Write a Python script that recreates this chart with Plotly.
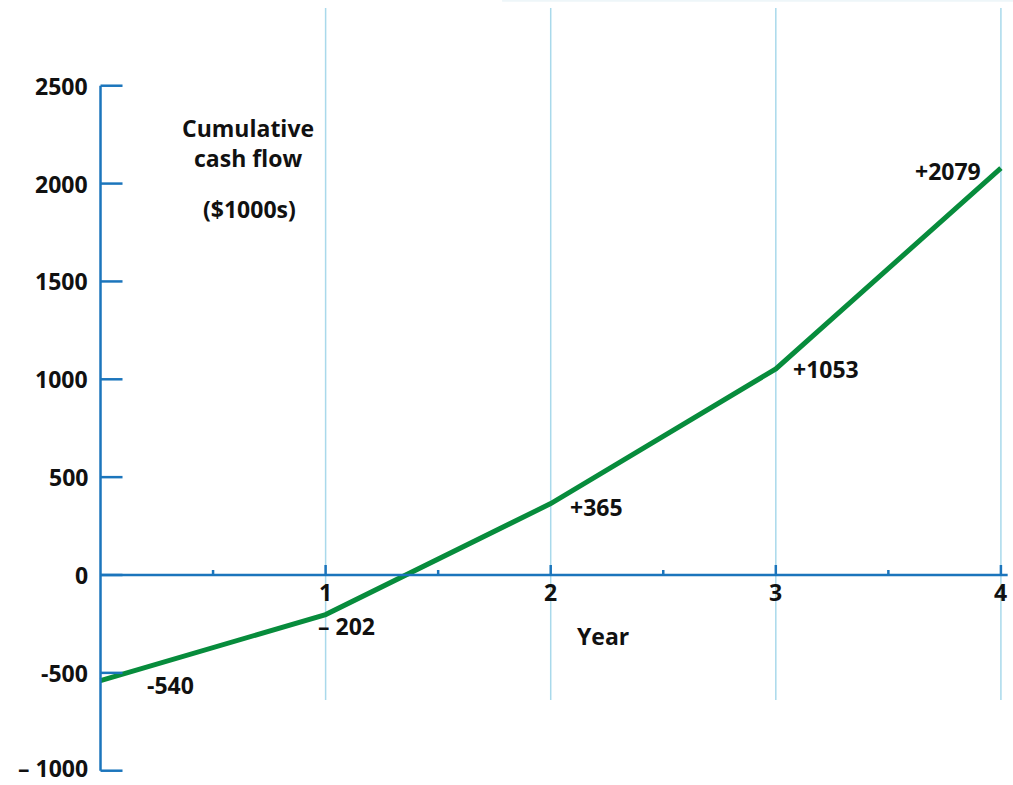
import plotly.graph_objects as go

# ---- data ----
years = [0, 1, 2, 3, 4]
cum_cash = [-540, -202, 365, 1053, 2079]
point_labels = ["-540", "\u2013 202", "+365", "+1053", "+2079"]

y_ticks = [2500, 2000, 1500, 1000, 500, 0, -500, -1000]
y_tick_text = ["2500", "2000", "1500", "1000", "500", "0", "-500", "\u2013 1000"]
x_major = [1, 2, 3, 4]
x_minor = [0.5, 1.5, 2.5, 3.5]
x_tick_text = ["1", "2", "3", "4"]

AXIS = "#1b75bc"
GRID = "#a9d9eb"
GREEN = "#078c3c"
FONT = dict(family="Open Sans", size=23, color="#111111", weight=700)

# pixel scale helpers (for offsets only)
PX_X = 225.1       # px per year
PX_Y = 0.19571     # px per $1000

fig = go.Figure()

shapes = []
# vertical gridlines
for xv in x_major:
    shapes.append(dict(type="line", xref="x", yref="y", x0=xv, x1=xv,
                       y0=-639, y1=2897, line=dict(color=GRID, width=1.5), layer="below"))
# faint top line
shapes.append(dict(type="line", xref="x", yref="paper", x0=1.784, x1=4.06,
                   y0=0.999, y1=0.999, line=dict(color="#eef6f9", width=2), layer="below"))
# y axis line
shapes.append(dict(type="line", xref="x", yref="y", x0=0, x1=0,
                   y0=min(y_ticks), y1=max(y_ticks), line=dict(color=AXIS, width=2.5)))
# y ticks (pointing right)
for yv in y_ticks:
    shapes.append(dict(type="line", xref="x", yref="y", x0=0, x1=22 / PX_X,
                       y0=yv, y1=yv, line=dict(color=AXIS, width=2.5)))
# x axis line
shapes.append(dict(type="line", xref="x", yref="y", x0=0, x1=4.03,
                   y0=0, y1=0, line=dict(color=AXIS, width=2.5)))
# x major ticks (upward)
for xv in x_major:
    shapes.append(dict(type="line", xref="x", yref="y", x0=xv, x1=xv,
                       y0=0, y1=10 / PX_Y, line=dict(color=AXIS, width=2.5)))
for xv in x_minor:
    shapes.append(dict(type="line", xref="x", yref="y", x0=xv, x1=xv,
                       y0=0, y1=5 / PX_Y, line=dict(color=AXIS, width=2.5)))

fig.add_trace(go.Scatter(x=years, y=cum_cash, mode="lines",
                         line=dict(color=GREEN, width=5), hoverinfo="skip",
                         showlegend=False))

ann = []
for yv, t in zip(y_ticks, y_tick_text):
    ann.append(dict(x=0, y=yv, xref="x", yref="y", text=t, showarrow=False,
                    xanchor="right", yanchor="middle", xshift=-12, borderpad=0,
                    yshift=3 if yv == min(y_ticks) else 0,
                    font=FONT))
for xv, t in zip(x_major, x_tick_text):
    ann.append(dict(x=xv, y=0, xref="x", yref="y", text=t, showarrow=False,
                    xanchor="center", yanchor="middle", yshift=-17, font=FONT))

# point label offsets (px)
offs = [(70, -4), (21, -11), (46, -3), (50, 0), (-53, -3)]
for xv, yv, t, (dx, dy) in zip(years, cum_cash, point_labels, offs):
    ann.append(dict(x=xv, y=yv, xref="x", yref="y", text=t, showarrow=False,
                    xanchor="center", yanchor="middle", xshift=dx, yshift=dy, font=FONT))

ann.append(dict(x=2, y=0, xref="x", yref="y", text="Year", showarrow=False,
                xanchor="center", yanchor="middle", xshift=52, yshift=-61, font=FONT))
ann.append(dict(x=0, y=2500, xref="x", yref="y", text="Cumulative<br>cash flow",
                showarrow=False, xanchor="center", yanchor="top", xshift=147, yshift=-24,
                font=FONT, align="center"))
ann.append(dict(x=0, y=2500, xref="x", yref="y", text="($1000s)",
                showarrow=False, xanchor="center", yanchor="middle", xshift=149, yshift=-123,
                font=FONT))

fig.update_layout(
    width=1013, height=785,
    margin=dict(l=0, r=0, t=0, b=0),
    paper_bgcolor="white", plot_bgcolor="white",
    xaxis=dict(range=[-0.4465, 4.0537], visible=False, fixedrange=True),
    yaxis=dict(range=[-1073, 2938], visible=False, fixedrange=True),
    shapes=shapes, annotations=ann, showlegend=False,
)

fig.write_html("out.html")
